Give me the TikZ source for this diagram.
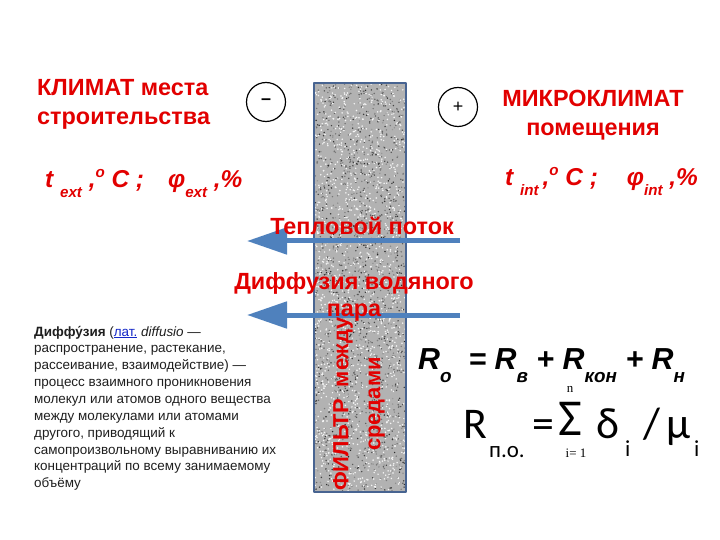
\documentclass[tikz,border=0pt]{standalone}
\usepackage{fontspec}
\usepackage{graphicx}
\setmainfont{Liberation Sans}
\newfontfamily\calibrifont{Carlito}
\newfontfamily\timesfont{Liberation Serif}
\usetikzlibrary{arrows.meta}
\definecolor{climred}{RGB}{226,0,0}
\definecolor{flowblue}{RGB}{79,129,189}
\definecolor{walledge}{RGB}{72,100,145}
\definecolor{linkblue}{RGB}{20,40,200}
\newcommand{\dnidx}[2][0.4em]{\raisebox{-#1}{\scalebox{0.62}{#2}}}
\newcommand{\upidx}[1]{\raisebox{0.45em}{\scalebox{0.62}{#1}}}
\begin{document}
\begin{tikzpicture}[x=1bp, y=-1bp, line join=round, line cap=butt,
		climtxt/.style={text=climred, font=\bfseries\fontsize{23.5}{29}\selectfont, inner sep=0},
		paramtxt/.style={text=climred, font=\bfseries\itshape\fontsize{24.5}{25}\selectfont, inner sep=0},
		flow/.style={flowblue, line width=5bp, -{Triangle[length=40bp,width=26bp]}},
		sign/.style={circle, draw, line width=1.2bp, minimum size=39bp, inner sep=0, font=\fontsize{18}{18}\selectfont},
		big/.style={inner sep=0, font=\calibrifont\fontsize{44}{44}\selectfont},
		small/.style={inner sep=0, font=\calibrifont\fontsize{23}{23}\selectfont},
		lim/.style={inner sep=0, font=\timesfont\fontsize{13}{13}\selectfont}]
	%\tikzset{wall/.style={fill=gray!55}}
	\useasboundingbox (0,0) rectangle (720,540);
	\fill[white] (0,0) rectangle (720,540);
	% wall
	\fill[gray!60] (314,83) rectangle (406,492);
	\pgfmathsetseed{11}
	\foreach \k in {1,...,1500}{
		\pgfmathsetmacro{\px}{314.8+90.4*rnd}
		\pgfmathsetmacro{\py}{83.8+407.4*rnd}
		\pgfmathsetmacro{\sh}{int(40+45*rnd)}
		\fill[black!\sh] (\px,\py) circle (0.8);
	}
	\foreach \k in {1,...,1400}{
		\pgfmathsetmacro{\px}{314.8+90.4*rnd}
		\pgfmathsetmacro{\py}{83.8+407.4*rnd}
		\fill[white!92!gray] (\px,\py) circle (0.85);
	}
	\draw[walledge, line width=1.3bp] (314,83) rectangle (406,492);
	% flows
	\coordinate (heatR) at (460,241);
	\coordinate (heatL) at (247,241);
	\coordinate (vapR) at (460,315);
	\coordinate (vapL) at (247,315);
	\draw[flow] (heatR) -- (heatL);
	\draw[flow] (vapR) -- (vapL);
	% signs
	\node[sign] (minus) at (266,102) {\textbf{–}};
	\node[sign] (plus) at (458,107) {+};
	% climate
	\node[climtxt, anchor=west, align=left] (ext) at (37,104.5) {КЛИМАТ места\\строительства};
	\node[climtxt, align=center] (int) at (593,115) {МИКРОКЛИМАТ\\помещения};
	\node[paramtxt, anchor=base west] (extpar) at (45,188) {t \dnidx{ext} ,\upidx{o} C ;\hspace{24bp}φ\dnidx{ext} ,\%};
	\node[paramtxt, anchor=base west] (intpar) at (505,186) {t \dnidx{int}\,,\upidx{o} C ;\hspace{29bp}φ\dnidx{int} ,\%};
	\node[climtxt] (heat) at (362,226) {Тепловой поток};
	\node[climtxt, align=center, font=\bfseries\fontsize{23.5}{27}\selectfont] (vap) at (354,297) {Диффузия водяного\\пара};
	\node[climtxt, rotate=90, align=center, font=\bfseries\fontsize{22}{32}\selectfont] (filter) at (359,404) {ФИЛЬТР\ \ между\\средами};
	% definition
	\node[anchor=north west, align=left, inner sep=0, text=black!88, font=\fontsize{13.5}{16.9}\selectfont] (defn) at (34,326) {\textbf{Диффу́зия} (\textcolor{linkblue}{\underline{лат.}} \textit{diffusio} —\\распространение, растекание,\\рассеивание, взаимодействие) —\\процесс взаимного проникновения\\молекул или атомов одного вещества\\между молекулами или атомами\\другого, приводящий к\\самопроизвольному выравниванию их\\концентраций по всему занимаемому\\объёму};
	% resistance
	\node[anchor=base west, inner sep=0, font=\bfseries\itshape\fontsize{30.5}{30}\selectfont] (rsum) at (418,369) {R\dnidx[0.45em]{о}\ \ = R\dnidx[0.45em]{в} + R\dnidx[0.45em]{кон} + R\dnidx[0.45em]{н}};
	\node[big, anchor=base west] (rR) at (463,438) {R};
	\node[small, anchor=base west] (rsub) at (489,457) {п.о.};
	\node[big, anchor=base west] (req) at (532,438) {=};
	\node[big, anchor=base, font=\calibrifont\fontsize{52}{52}\selectfont] (sigma) at (570,435) {Σ};
	\node[lim] (top) at (570,389) {n};
	\node[lim] (bot) at (576,453) {i= 1};
	\node[big, anchor=base west] (delta) at (596,438) {δ};
	\node[small, anchor=base west] (di) at (625,456) {i};
	\node[big, anchor=base west] (slash) at (643,438) {/};
	\node[big, anchor=base west] (mu) at (666,438) {μ};
	\node[small, anchor=base west] (mi) at (694,456) {i};
\end{tikzpicture}
\end{document}
